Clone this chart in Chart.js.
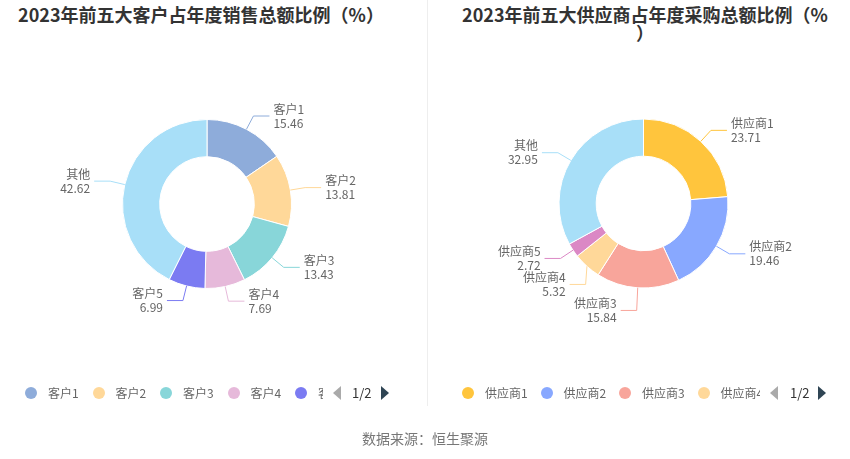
<!DOCTYPE html>
<html>
<head>
<meta charset="utf-8">
<script src="https://cdn.jsdelivr.net/npm/chart.js@4/dist/chart.umd.min.js"></script>
<style>
  body { margin: 0; background: #fff; font-family: "Noto Sans CJK SC", "Noto Sans", sans-serif; }
  #wrap { position: relative; width: 850px; height: 459px; overflow: hidden; }
  .title { position: absolute; font-size: 18px; font-weight: bold; color: #333; white-space: nowrap; line-height: 18px; transform: translateX(-50%); text-align: center; }
  .divider { position: absolute; left: 427px; top: 0; width: 1px; height: 406px; background: #eee; }
  .cv { position: absolute; top: 0; }
  .legend { position: absolute; top: 384px; height: 18px; overflow: hidden; }
  .item { position: absolute; top: 0; height: 18px; white-space: nowrap; font-size: 12px; color: #666; line-height: 18px; }
  .dot { position: absolute; top: 3px; left: 0; width: 12px; height: 12px; border-radius: 50%; }
  .item span { position: absolute; left: 23px; top: 0; }
  .pager { position: absolute; top: 385px; height: 16px; font-size: 13px; color: #333; line-height: 16px; }
  .arrow { position: absolute; top: 1px; width: 0; height: 0; border-top: 7px solid transparent; border-bottom: 7px solid transparent; }
  .source { position: absolute; top: 428px; left: 0; width: 850px; text-align: center; font-size: 14px; color: #777; }
</style>
</head>
<body>
<div id="wrap">
  <div class="title" style="left:201px; top:5px;">2023年前五大客户占年度销售总额比例（%）</div>
  <div class="title" style="left:645px; top:5px;">2023年前五大供应商占年度采购总额比例（%<br>）</div>
  <div class="divider"></div>
  <canvas id="chartLeft" class="cv" width="425" height="459" style="left:0"></canvas>
  <canvas id="chartRight" class="cv" width="423" height="459" style="left:427px"></canvas>
  <div id="legendLeft" class="legend" style="left:25px; width:298px;"></div>
  <div id="legendRight" class="legend" style="left:462px; width:298px;"></div>
  <div class="pager" style="left:333px; width:60px;">
    <div class="arrow" style="left:0; border-right:8px solid #aaa;"></div>
    <div style="position:absolute; left:19px;">1/2</div>
    <div class="arrow" style="left:48px; border-left:8px solid #2f4554;"></div>
  </div>
  <div class="pager" style="left:770px; width:60px;">
    <div class="arrow" style="left:0; border-right:8px solid #aaa;"></div>
    <div style="position:absolute; left:20px;">1/2</div>
    <div class="arrow" style="left:48px; border-left:8px solid #2f4554;"></div>
  </div>
  <div class="source">数据来源：恒生聚源</div>
</div>
<script>
// 左图：前五大客户
const customerLabels = ['客户1', '客户2', '客户3', '客户4', '客户5', '其他'];
const customerValues = [15.46, 13.81, 13.43, 7.69, 6.99, 42.62];
const customerColors = ['#8eacda', '#ffd899', '#88d6d9', '#e6b9da', '#7b7bf2', '#a8dff8'];

// 右图：前五大供应商
const supplierLabels = ['供应商1', '供应商2', '供应商3', '供应商4', '供应商5', '其他'];
const supplierValues = [23.71, 19.46, 15.84, 5.32, 2.72, 32.95];
const supplierColors = ['#ffc53d', '#88a8ff', '#f8a59b', '#ffd899', '#db88c5', '#a8dff8'];

// leader lines + two-line labels, echarts style
const outsideLabels = {
    id: 'outsideLabels',
    afterDraw(chart) {
        const ctx = chart.ctx;
        const arcs = chart.getDatasetMeta(0).data;
        const ds = chart.data.datasets[0];
        const len1 = 15, len2 = 16, gap = 4, minGap = 26;
        const items = arcs.map((a, i) => {
            const mid = (a.startAngle + a.endAngle) / 2;
            const r = a.outerRadius;
            const R = r + len1;
            const c = Math.cos(mid), s = Math.sin(mid);
            return {
                i, cx: a.x, cy: a.y, R,
                x0: a.x + r * c, y0: a.y + r * s,
                x1: a.x + R * c, y1: a.y + R * s,
                right: c >= 0
            };
        });
        [true, false].forEach(side => {
            const list = items.filter(it => it.right === side).sort((a, b) => a.y1 - b.y1);
            for (let k = 1; k < list.length; k++) {
                const prev = list[k - 1], cur = list[k];
                if (cur.y1 - prev.y1 < minGap) {
                    cur.y1 = prev.y1 + minGap;
                    const dy = cur.y1 - cur.cy;
                    if (Math.abs(dy) < cur.R) {
                        const dx = Math.sqrt(cur.R * cur.R - dy * dy);
                        cur.x1 = cur.cx + (side ? dx : -dx);
                    }
                }
            }
        });
        ctx.save();
        ctx.font = '12px "Noto Sans CJK SC", sans-serif';
        ctx.textBaseline = 'middle';
        items.forEach(it => {
            const col = ds.backgroundColor[it.i];
            const x2 = it.x1 + (it.right ? len2 : -len2);
            ctx.strokeStyle = col;
            ctx.lineWidth = 1;
            ctx.beginPath();
            ctx.moveTo(it.x0, it.y0);
            ctx.lineTo(it.x1, it.y1);
            ctx.lineTo(x2, it.y1);
            ctx.stroke();
            ctx.fillStyle = '#666';
            ctx.textAlign = it.right ? 'left' : 'right';
            const tx = x2 + (it.right ? gap : -gap);
            ctx.fillText(chart.data.labels[it.i], tx, it.y1 - 7);
            ctx.fillText(ds.data[it.i].toFixed(2), tx, it.y1 + 7);
        });
        ctx.restore();
    }
};

function makeDoughnut(id, labels, values, colors, padding) {
    return new Chart(document.getElementById(id), {
        type: 'doughnut',
        data: {
            labels: labels,
            datasets: [{ data: values, backgroundColor: colors, borderColor: '#fff', borderWidth: 1 }]
        },
        options: {
            responsive: false,
            animation: false,
            radius: 84.5,
            cutout: '56%',
            events: [],
            layout: { padding: padding },
            plugins: { legend: { display: false }, tooltip: { enabled: false } }
        },
        plugins: [outsideLabels]
    });
}

function makeLegend(id, labels, colors, step) {
    const box = document.getElementById(id);
    labels.forEach((name, i) => {
        const el = document.createElement('div');
        el.className = 'item';
        el.style.left = (i * step) + 'px';
        el.innerHTML = `<div class="dot" style="background:${colors[i]}"></div><span>${name}</span>`;
        box.appendChild(el);
    });
}

makeDoughnut('chartLeft', customerLabels, customerValues, customerColors, { left: 0, right: 11, top: 0, bottom: 51 });
makeDoughnut('chartRight', supplierLabels, supplierValues, supplierColors, { left: 10, right: 0, top: 0, bottom: 52 });
makeLegend('legendLeft', customerLabels, customerColors, 67.5);
makeLegend('legendRight', supplierLabels, supplierColors, 78.5);
</script>
</body>
</html>
